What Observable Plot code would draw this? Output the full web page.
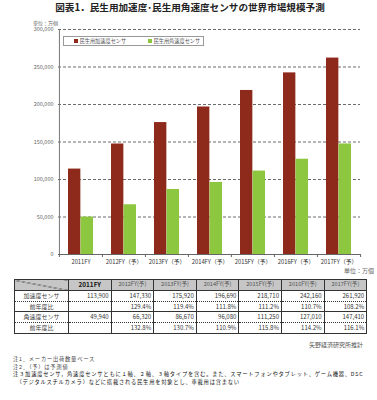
<!DOCTYPE html>
<html><head><meta charset="utf-8">
<script src="https://cdn.jsdelivr.net/npm/d3@7"></script>
<script src="https://cdn.jsdelivr.net/npm/@observablehq/plot@0.6"></script>
<style>
html,body{margin:0;padding:0;background:#fff;width:377px;height:400px;overflow:hidden;font-family:"Noto Sans CJK JP",sans-serif;}
.abs{position:absolute;white-space:nowrap;}
#title{left:0;width:380px;top:0;text-align:center;font-size:9.6px;font-weight:bold;color:#222;line-height:14px;}
#unit1{left:33px;top:19px;font-size:5px;color:#666;}
#legend{left:63px;top:36px;width:139px;height:8px;border:1px solid #999;font-size:5.2px;color:#555;line-height:8px;}
#legend span.sw{display:inline-block;width:4px;height:4px;margin-right:1.5px;vertical-align:0px;}
#unit2{right:3px;top:266px;font-size:6px;color:#666;}
table{position:absolute;left:14px;top:279px;border-collapse:collapse;font-size:6px;color:#333;table-layout:fixed;}
td{height:9.8px;padding:0 2px;text-align:right;border-left:1px solid #333;border-right:1px solid #333;line-height:9.8px;white-space:nowrap;}
tr.hd td{background:#c6c6c6;text-align:center;border:1px solid #333;color:#555;font-size:5.6px;}
tr.hd td.b{color:#111;font-weight:bold;font-size:6.4px;}
td.lab{text-align:center;color:#444;}
tr.r1 td,tr.r3 td{border-bottom:1px dotted #333;}
tr.r2 td{border-bottom:1px solid #333;}
tr.r4 td{border-bottom:1.5px solid #333;}
#src{right:14px;top:340px;font-size:6px;color:#555;}
#notes{left:13px;top:356px;font-size:5.3px;line-height:7.7px;letter-spacing:0.75px;color:#444;}
#notes div{height:7.7px;}
#notes .l3{color:#111;}
</style></head>
<body>
<div id="title" class="abs">図表1．民生用加速度･民生用角速度センサの世界市場規模予測</div>
<div id="unit1" class="abs">単位：万個</div>
<div id="chart" class="abs" style="left:0;top:20px;"></div>
<div id="legend" class="abs"></div>
<div id="unit2" class="abs">単位：万個</div>
<table id="tbl"></table>
<div id="src" class="abs">矢野経済研究所推計</div>
<div id="notes" class="abs"></div>
<script>
const years = ["2011FY","2012FY（予）","2013FY（予）","2014FY（予）","2015FY（予）","2016FY（予）","2017FY（予）"];
const tableYears = ["2011FY","2012FY(予)","2013FY(予)","2014FY(予)","2015FY(予)","2016FY(予)","2017FY(予)"];
const series = ["民生用加速度センサ","民生用角速度センサ"];
const accel = [113900,147330,175920,196690,218710,242160,261920];
const gyro = [49940,66320,86670,96080,111250,127010,147410];
const accelYoY = ["","129.4%","119.4%","111.8%","111.2%","110.7%","108.2%"];
const gyroYoY = ["","132.8%","130.7%","110.9%","115.8%","114.2%","116.1%"];
const rowLabels = ["加速度センサ","前年度比","角速度センサ","前年度比"];
const yTicks = [0,50000,100000,150000,200000,250000,300000];
const notes = ["注1．メーカー出荷数量ベース","注2．（予）は予測値","注３加速度センサ，角速度センサともに１軸、２軸、３軸タイプを含む。また、スマートフォンやタブレット、ゲーム機器、DSC","　（デジタルスチルカメラ）などに搭載される民生用を対象とし、車載用は含まない"];
const colors = ["#8e2a1c","#8dc63f"];

const W = 377, mL = 58, mR = 17;
const band = (W - mL - mR) / years.length;
const barW = 12.5, off = 9;

const accData = years.map((y,i)=>({year:y, v:accel[i]}));
const gyrData = years.map((y,i)=>({year:y, v:gyro[i]}));

const chart = Plot.plot({
  width: W, height: 250,
  marginLeft: mL, marginRight: mR, marginTop: 9, marginBottom: 16,
  style: {fontFamily: '"Noto Sans CJK JP", sans-serif', background: "transparent", color: "#444"},
  x: {domain: years, padding: 0, label: null},
  y: {domain: [0,300000], label: null},
  marks: [
    Plot.ruleY(yTicks.filter(d=>d>0), {stroke: "#444", strokeDasharray: "3,2", strokeWidth: 0.8}),
    Plot.barY(accData, {x: "year", y: "v", fill: colors[0], insetLeft: off, insetRight: band - off - barW}),
    Plot.barY(gyrData, {x: "year", y: "v", fill: colors[1], insetLeft: off + barW, insetRight: off}),
    Plot.ruleY([0], {stroke: "#666", strokeWidth: 1}),
    Plot.ruleX([years[0]], {y1: 0, y2: 300000, dx: -band/2, stroke: "#777", strokeWidth: 1}),
    Plot.ruleX(years, {y1: 0, y2: -4000, dx: -band/2, stroke: "#666"}),
    Plot.ruleX([years[years.length-1]], {y1: 0, y2: -4000, dx: band/2, stroke: "#666"}),
    Plot.axisY({ticks: yTicks, tickSize: 0, tickPadding: 5, tickFormat: d3.format(","), fontSize: 5.5, fill: "#666", label: null}),
    Plot.axisX({tickSize: 0, tickPadding: 5, fontSize: 5.8, fill: "#333", label: null})
  ]
});
document.getElementById("chart").appendChild(chart);

// legend
const lg = document.getElementById("legend");
lg.innerHTML = series.map((s,i)=>`<span style="position:absolute;left:${i===0?10:84}px;top:0"><span class="sw" style="background:${colors[i]}"></span>${s}</span>`).join("");

// table
const fmt = d3.format(",");
const tbl = document.getElementById("tbl");
let html = '<colgroup><col style="width:54px">' + tableYears.map(()=>'<col style="width:42.6px">').join("") + '</colgroup>';
html += '<tr class="hd"><td style="background:#c6c6c6 linear-gradient(to top right, transparent calc(50% - 0.5px), #333 50%, transparent calc(50% + 0.5px))"></td>' + tableYears.map((y,i)=>`<td class="${i===0?'b':''}">${y}</td>`).join("") + '</tr>';
const rows = [accel.map(fmt), accelYoY, gyro.map(fmt), gyroYoY];
rows.forEach((r,k)=>{
  html += `<tr class="r${k+1}"><td class="lab">${rowLabels[k]}</td>` + r.map(v=>`<td>${v}</td>`).join("") + '</tr>';
});
tbl.innerHTML = html;

document.getElementById("notes").innerHTML = notes.map((n,i)=>`<div class="${i>=2?'l3':''}">${n}</div>`).join("");
</script>
</body></html>
